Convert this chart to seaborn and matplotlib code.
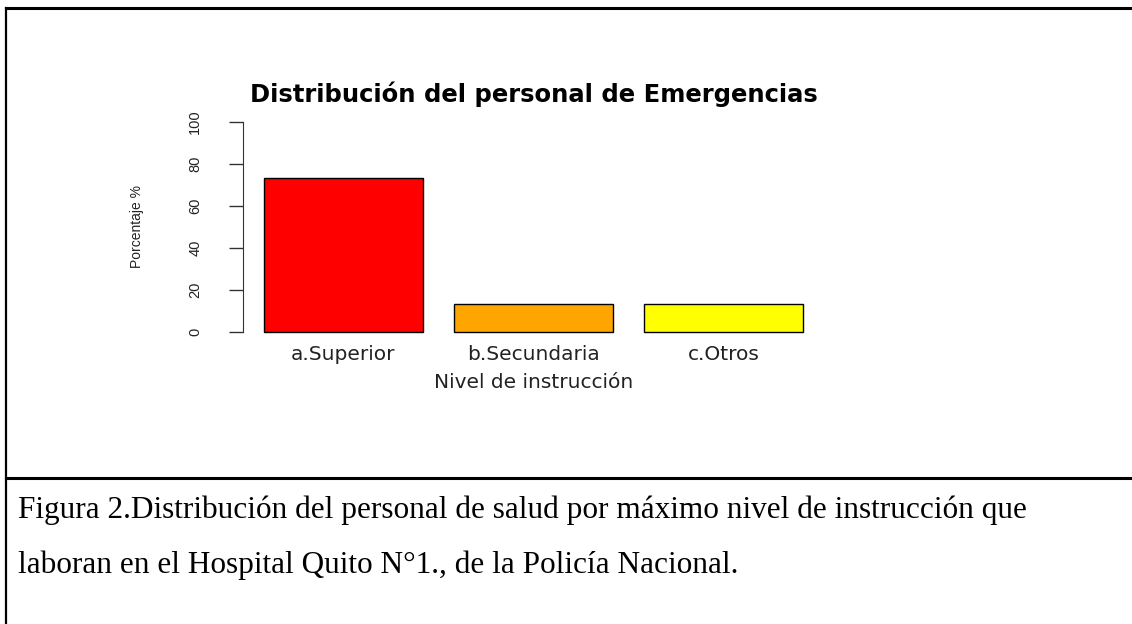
import matplotlib
matplotlib.use("Agg")
import matplotlib.pyplot as plt
import seaborn as sns
from matplotlib.lines import Line2D

# Data
categorias = ['a.Superior', 'b.Secundaria', 'c.Otros']
porcentajes = [73.3, 13.3, 13.3]
colores = ['#FF0000', '#FFA500', '#FFFF00']
yticks = [0, 20, 40, 60, 80, 100]

W, H = 1132, 624
fig = plt.figure(figsize=(W / 100, H / 100), dpi=100)
fig.patch.set_facecolor('white')

# plot region in pixels (left, right, top, bottom)
px_l, px_r, px_t, px_b = 242.5, 824.5, 113.6, 340.4
ax = fig.add_axes([px_l / W, 1 - px_b / H, (px_r - px_l) / W, (px_b - px_t) / H])

sns.barplot(x=categorias, y=porcentajes, hue=categorias, palette=colores,
            legend=False, width=0.833, saturation=1, edgecolor='black',
            linewidth=1, ax=ax)

ax.set_xlim(-0.53, 2.53)
ax.set_ylim(-4, 104)
ax.set_yticks(yticks)
ax.set_yticklabels([str(v) for v in yticks], rotation=90, va='center',
                   family=['Liberation Sans Narrow', 'Liberation Sans'],
                   fontsize=10.5, color='#222222')

for s in ['top', 'right', 'bottom']:
    ax.spines[s].set_visible(False)
ax.spines['left'].set_bounds(0, 100)
ax.spines['left'].set_color('#333333')
ax.tick_params(axis='y', direction='out', length=10, width=1, color='#333333', pad=19)
ax.tick_params(axis='x', length=0, pad=3, labelsize=14.5, labelcolor='#222222')
ax.set_facecolor('white')

ax.set_xlabel('Nivel de instrucción', fontsize=14.5, color='#222222', va='center')
ax.xaxis.set_label_coords(0.5, (px_b - 382) / (px_b - px_t))
ax.set_ylabel('Porcentaje %', fontsize=10, color='#222222', va='center',
              family=['Liberation Sans Narrow', 'Liberation Sans'])
ax.yaxis.set_label_coords((137 - px_l) / (px_r - px_l), 0.5)

ax.set_title('Distribución del personal de Emergencias', fontsize=17.5,
             fontweight='bold', y=(px_b - 94) / (px_b - px_t), va='center', pad=0)

# document frame lines
def hline(y, x0=6, x1=W, lw=2.2):
    fig.add_artist(Line2D([x0 / W, x1 / W], [1 - y / H, 1 - y / H],
                          transform=fig.transFigure, color='black', lw=lw))

hline(8)
hline(478)
fig.add_artist(Line2D([6 / W, 6 / W], [1 - 8 / H, 0], transform=fig.transFigure,
                      color='black', lw=1.6))

# caption
cap_font = ['Liberation Serif', 'DejaVu Serif']
fig.text(18 / W, 1 - 510 / H,
         'Figura 2.Distribución del personal de salud por máximo nivel de instrucción que',
         family=cap_font, fontsize=22.5, va='center', ha='left')
fig.text(18 / W, 1 - 565 / H,
         'laboran en el Hospital Quito N°1., de la Policía Nacional.',
         family=cap_font, fontsize=22.5, va='center', ha='left')

fig.savefig('out.png', dpi=100, facecolor='white')
